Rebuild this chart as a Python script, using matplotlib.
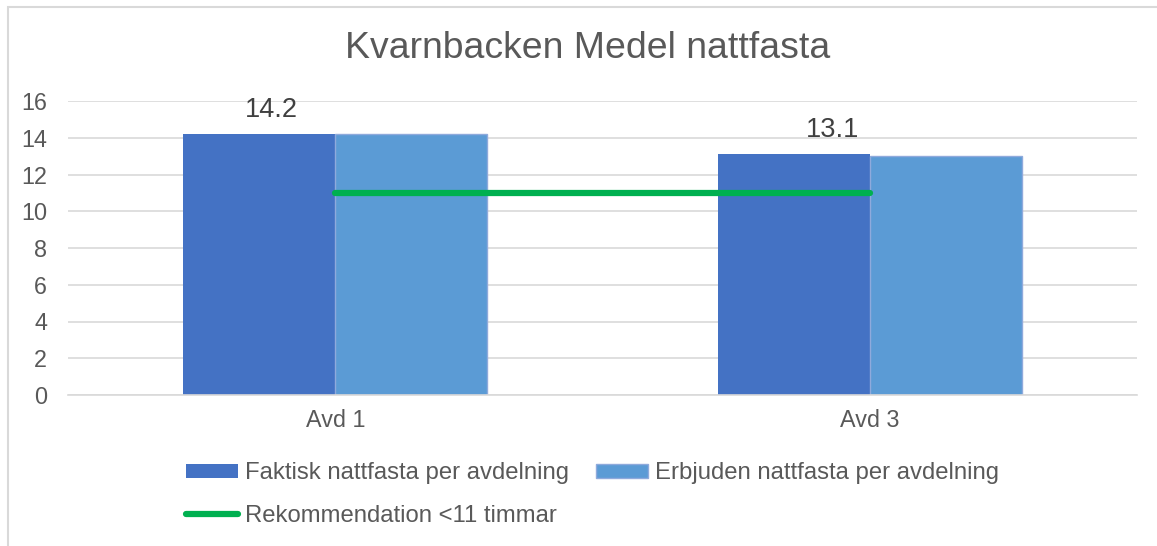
import matplotlib.pyplot as plt
from matplotlib.patches import Rectangle
import numpy as np

plt.rcParams["font.family"] = ["Liberation Sans", "DejaVu Sans"]

# data
categories = ["Avd 1", "Avd 3"]
faktisk = [14.2, 13.1]
erbjuden = [14.2, 13.0]
rekommendation = [11, 11]
labels_shown = ["14.2", "13.1"]

dark_blue = "#4472c4"
light_blue = "#5b9bd5"
green = "#00b050"
text_gray = "#595959"
grid_gray = "#d9d9d9"

fig = plt.figure(figsize=(11.57, 5.46), dpi=100)
ax = fig.add_axes([68 / 1157, 1 - 395 / 546, (1137 - 68) / 1157, (395 - 101) / 546])

x = np.arange(len(categories))
w = 0.284
b1 = ax.bar(x - w / 2, faktisk, w, color=dark_blue, zorder=2)
b2 = ax.bar(x + w / 2, erbjuden, w, color=light_blue, edgecolor="#8faadc",
            linewidth=1.0, zorder=2)
ln, = ax.plot(x, rekommendation, color=green, lw=4.5, solid_capstyle="round", zorder=3)

# data labels (sit slightly to the right of the dark bars, as in the original)
for xi, val, lab, dx in zip(x, faktisk, labels_shown, [9, 28]):
    ax.annotate(lab, (xi - w / 2, val), xytext=(dx, 8), textcoords="offset points",
                ha="center", va="bottom", fontsize=19.5, color="#404040")

ax.set_xlim(-0.5, 1.5)
ax.set_ylim(0, 16)
ax.set_yticks(range(0, 17, 2))
ax.set_xticks(x)
ax.set_xticklabels(categories)
ax.tick_params(axis="both", length=0, labelsize=16.8, colors=text_gray)
ax.tick_params(axis="y", pad=15)
ax.tick_params(axis="x", pad=10)
ax.grid(axis="y", color=grid_gray, lw=1.2, zorder=0)
ax.set_axisbelow(True)
for s in ["top", "right", "left"]:
    ax.spines[s].set_visible(False)
ax.spines["bottom"].set_color(grid_gray)
ax.spines["bottom"].set_linewidth(1.2)

fig.text(588 / 1157, 1 - 48 / 546, "Kvarnbacken Medel nattfasta", ha="center",
         va="center", fontsize=26.9, color=text_gray)

# legend: column-wise fill, so green goes under the dark bar entry
handles = [b1, ln, b2]
names = ["Faktisk nattfasta per avdelning", "Rekommendation <11 timmar",
         "Erbjuden nattfasta per avdelning"]
leg = fig.legend(handles, names, loc="upper left", bbox_to_anchor=(164 / 1157, 1 - 441 / 546),
                 ncol=2, frameon=False, fontsize=17.2, handlelength=2.2, handleheight=0.55,
                 handletextpad=0.3, columnspacing=1.1, labelspacing=0.85, borderpad=0.4)
for t in leg.get_texts():
    t.set_color(text_gray)

# outer chart border (cropped at right and bottom)
fig.patches.append(Rectangle((8 / 1157, -0.1), 1.2, 1 - 7 / 546 + 0.1,
                             transform=fig.transFigure, fill=False,
                             edgecolor=grid_gray, lw=1.5))

fig.savefig("out.png", dpi=100)
